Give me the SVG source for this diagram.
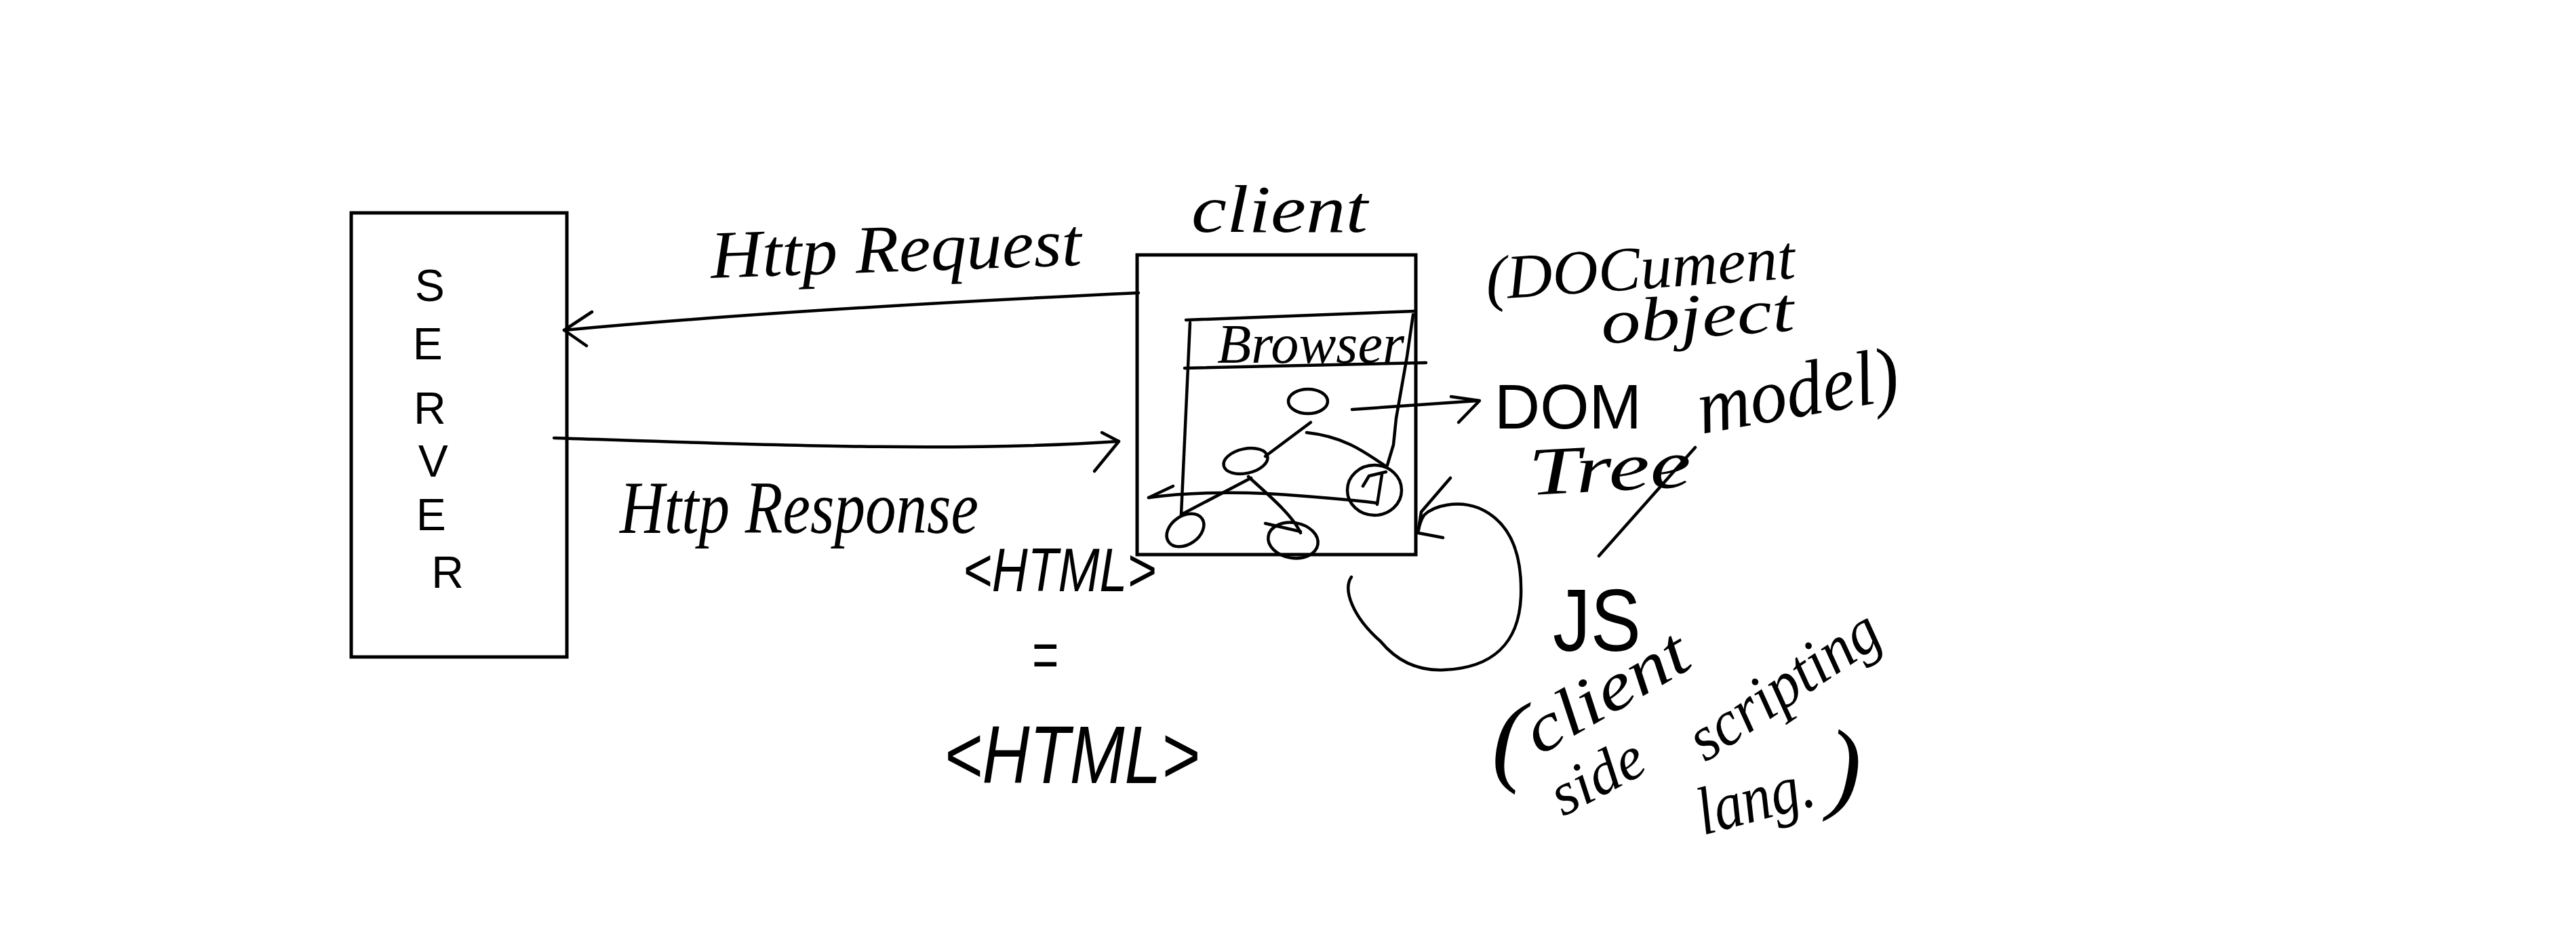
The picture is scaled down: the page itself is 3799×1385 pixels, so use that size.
<svg xmlns="http://www.w3.org/2000/svg" width="3799" height="1385" viewBox="0 0 3799 1385">
<style>
.box{fill:none;stroke:#000;stroke-width:5}
.ln{fill:none;stroke:#000;stroke-width:4.5;stroke-linecap:round;stroke-linejoin:round}
.hw{font-family:"Liberation Serif","DejaVu Serif",serif;font-style:italic;fill:#000}
.pr{font-family:"Liberation Sans","DejaVu Sans",sans-serif;fill:#000}
</style>
<rect width="3799" height="1385" fill="#fff"/>

<g id="server">
  <rect class="box" x="518" y="314" width="318" height="655"/>
  <text class="pr" font-size="66" text-anchor="middle">
    <tspan x="643" y="444">S</tspan>
    <tspan x="640" y="530">E</tspan>
    <tspan x="643" y="625">R</tspan>
    <tspan x="648" y="703">V</tspan>
    <tspan x="645" y="782">E</tspan>
    <tspan x="660" y="867">R</tspan>
  </text>
</g>

<g id="client">
  <rect class="box" x="1677" y="376" width="411" height="442"/>
  <text class="hw" x="1757" y="342" font-size="100" textLength="260" lengthAdjust="spacingAndGlyphs">client</text>
</g>

<g id="browser">
  <path class="ln" d="M1749,472 L2086,459"/>
  <path class="ln" d="M1755,476 L1742,759"/>
  <path class="ln" d="M2084,464 L2075,526 L2059,617 L2055,656 L2046,686"/>
  <path class="ln" d="M1747,543 L2103,535"/>
  <text class="hw" x="1795" y="535" font-size="82" textLength="276" lengthAdjust="spacingAndGlyphs">Browser</text>
</g>

<g id="dom-tree">
  <ellipse class="ln" cx="1929" cy="592" rx="29" ry="18"/>
  <ellipse class="ln" cx="1837" cy="680" rx="33" ry="18" transform="rotate(-12 1837 680)"/>
  <ellipse class="ln" cx="1748" cy="782" rx="30" ry="21" transform="rotate(-35 1748 782)"/>
  <ellipse class="ln" cx="1907" cy="797" rx="37" ry="26" transform="rotate(10 1907 797)"/>
  <ellipse class="ln" cx="2027" cy="723" rx="40" ry="37"/>
  <path class="ln" d="M2010,717 L2019,702 L2044,696 M2038,700 L2031,744"/>
  <path class="ln" d="M1866,772 L1918,784"/>
</g>

<g id="html-note">
  <text class="pr" x="1420" y="872" font-size="90" font-style="italic" textLength="285" lengthAdjust="spacingAndGlyphs">&lt;HTML&gt;</text>
  <text class="hw" font-size="100" font-style="normal" text-anchor="middle" transform="translate(1541,1010) scale(0.7,1.3)">=</text>
  <text class="pr" x="1392" y="1155" font-size="120" font-style="italic" textLength="377" lengthAdjust="spacingAndGlyphs">&lt;HTML&gt;</text>
</g>

<g id="dom-note">
  <text class="hw" x="2193" y="442" font-size="92" textLength="457" lengthAdjust="spacingAndGlyphs" transform="rotate(-4 2193 442)">(DOCument</text>
  <text class="hw" x="2363" y="507" font-size="92" textLength="285" lengthAdjust="spacingAndGlyphs" transform="rotate(-4 2363 507)">object</text>
  <text class="pr" x="2204" y="632" font-size="92" textLength="217" lengthAdjust="spacingAndGlyphs">DOM</text>
  <text class="hw" x="2510" y="640" font-size="115" textLength="300" lengthAdjust="spacingAndGlyphs" transform="rotate(-10 2510 640)">model)</text>
  <text class="hw" x="2256" y="730" font-size="100" textLength="240" lengthAdjust="spacingAndGlyphs" transform="rotate(-3 2256 730)">Tree</text>
  <path class="ln" d="M2500,660 L2358,820"/>
</g>

<g id="js-note">
  <text class="pr" x="2290" y="960" font-size="130" textLength="130" lengthAdjust="spacingAndGlyphs">JS</text>
  <text class="hw" x="2200" y="1140" font-size="150">(</text>
  <text class="hw" x="2270" y="1115" font-size="100" textLength="265" lengthAdjust="spacingAndGlyphs" transform="rotate(-30 2270 1115)">client</text>
  <text class="hw" x="2305" y="1205" font-size="90" textLength="145" lengthAdjust="spacingAndGlyphs" transform="rotate(-28 2305 1205)">side</text>
  <text class="hw" x="2515" y="1125" font-size="95" textLength="320" lengthAdjust="spacingAndGlyphs" transform="rotate(-34 2515 1125)">scripting</text>
  <text class="hw" x="2512" y="1232" font-size="100" textLength="175" lengthAdjust="spacingAndGlyphs" transform="rotate(-15 2512 1232)">lang.</text>
  <text class="hw" x="2695" y="1180" font-size="150">)</text>
</g>

<g id="connectors">
  <!-- HTTP request -->
  <path class="ln" d="M1679,432 C1400,445 1100,462 832,487"/>
  <path class="ln" d="M873,460 L832,487 L865,510"/>
  <text class="hw" x="1049" y="410" font-size="100" textLength="547" lengthAdjust="spacingAndGlyphs" transform="rotate(-2 1049 410)">Http Request</text>
  <!-- HTTP response -->
  <path class="ln" d="M817,646 C1100,655 1400,668 1650,651"/>
  <path class="ln" d="M1625,638 L1650,651 L1614,695"/>
  <text class="hw" x="914" y="786" font-size="110" textLength="529" lengthAdjust="spacingAndGlyphs">Http Response</text>
  <!-- to DOM -->
  <path class="ln" d="M1994,604 L2180,591"/>
  <path class="ln" d="M2140,585 L2182,591 L2151,623"/>
  <!-- arrow across browser bottom -->
  <path class="ln" d="M2031,742 C1983,736 1900,730 1868,728 C1820,726 1760,725 1694,734"/>
  <path class="ln" d="M1730,717 L1694,734"/>
  <!-- tree edges -->
  <path class="ln" d="M1933,623 L1866,673"/>
  <path class="ln" d="M1927,638 C1983,644 2013,667 2044,688"/>
  <path class="ln" d="M1845,705 L1742,759"/>
  <path class="ln" d="M1841,703 C1868,728 1906,759 1918,786"/>
  <!-- JS loop -->
  <path class="ln" d="M1993,851 C1980,870 1995,910 2036,946 C2060,975 2090,990 2130,988 C2200,985 2240,950 2243,880 C2245,820 2230,770 2180,749 C2150,738 2115,745 2100,760 C2095,768 2093,776 2092,782"/>
  <path class="ln" d="M2139,705 L2096,755 L2091,786 L2128,793"/>
</g>
</svg>
